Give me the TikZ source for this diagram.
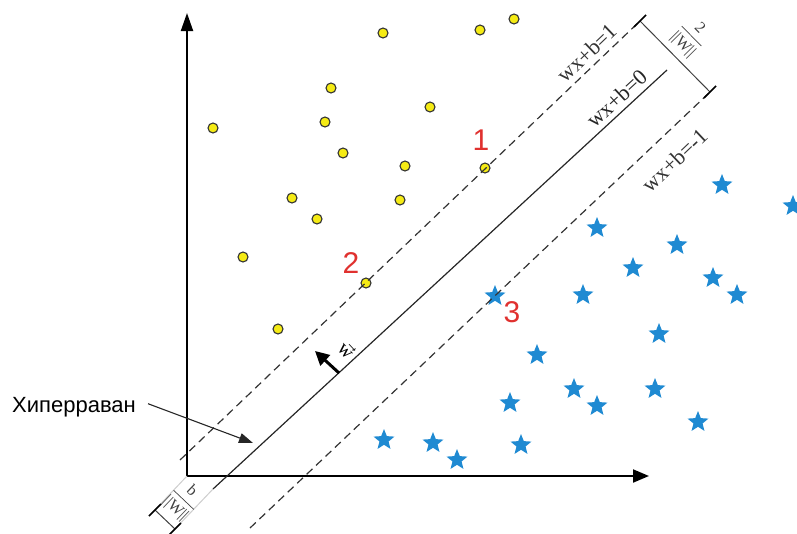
\documentclass[tikz,border=0pt]{standalone}
\usepackage{amsmath}
\usepackage{fontspec}
\setmainfont{Liberation Serif}
\newfontfamily\arialfont{Liberation Sans}
\usepackage{tikz}
\usetikzlibrary{arrows.meta,calc}
\usetikzlibrary{shapes.geometric}
\definecolor{dotyellow}{HTML}{F5EB14}
\definecolor{starblue}{HTML}{1F8AD2}
\definecolor{numred}{HTML}{E0312F}
\definecolor{extgray}{HTML}{CDCDCD}

\begin{document}
\begin{tikzpicture}[x=1pt,y=-1pt,
  dot/.style={circle,draw=black!80,fill=dotyellow,line width=1.1pt,minimum size=10pt,inner sep=0pt},
  bluestar/.style={star,star points=5,star point ratio=2.3,fill=starblue,minimum size=22pt,inner sep=0pt},
  num/.style={text=numred,font=\arialfont\fontsize{30}{30}\selectfont,inner sep=0pt},
  eqlabel/.style={font=\fontsize{22}{24}\selectfont,sloped,inner sep=1pt},
  dimlabel/.style={font=\fontsize{16}{18}\selectfont,sloped,inner sep=1pt},
  dimtick/.style={line width=1.6pt}]
\useasboundingbox (0,0) rectangle (797,533);
% data points
\foreach \px/\py [count=\i] in {383/33,480/30,514/19,331/88,430/107,213/128,325/122,343/153,405/166,485/168,292/198,317/219,400/200,243/257,366/283,278/329}
  \node[dot] (c\i) at (\px,\py) {};
\foreach \px/\py [count=\i] in {722/184,793/205,597/227,677/244,633/267,713/277,737/294,583/294,495/295,659/333,537/354,574/388,655/388,597/405,510/402,698/421,384/439,433/442,521/444,457/459}
  \node[bluestar] (s\i) at (\px,\py+1) {};
% axes
\coordinate (o) at (187,476);
\coordinate (ytip) at (187,13);
\coordinate (xtip) at (649,476);
\draw[line width=2pt,{Triangle[length=18pt,width=12pt]}-{Triangle[length=16pt,width=13pt]}] (ytip) |- (xtip);
% hyperplane and margins
\coordinate (h0) at (213,489); \coordinate (h1) at (667,70);
\coordinate (u0) at (180,460); \coordinate (u1) at (640,21);
\coordinate (l0) at (250,528); \coordinate (l1) at (710,92);
\draw[black!85,line width=1.2pt] (h0) -- (h1) node[eqlabel,pos=0.909,above=4pt] {wx+b=0};
\draw[black!80,line width=1.2pt,dash pattern=on 8pt off 5pt] (u0) -- (u1) node[eqlabel,pos=0.905,above=4pt] {wx+b=1};
\draw[black!80,line width=1.2pt,dash pattern=on 8pt off 5pt] (l0) -- (l1) node[eqlabel,pos=0.886,below=16pt] {wx+b=-1};
% margin width
\draw[black!75,line width=1pt] (u1) -- (l1) node[dimlabel,pos=0.47,above=5pt] {$\dfrac{\text{2}}{\text{||W||}}$};
\foreach \p in {u1,l1} \draw[dimtick] ($(\p)+(-6,6)$) -- ($(\p)+(6,-6)$);
% offset from origin
\coordinate (e0) at (152,513); \coordinate (e1) at (173,531);
\draw[extgray,line width=1pt] (o) -- (e0) (h0) -- (e1);
\coordinate (d0) at (155,510); \coordinate (d1) at (175,529);
\draw[black!75,line width=1pt] (d0) -- (d1) node[dimlabel,midway,above=6pt] {$\dfrac{\text{b}}{\text{||W||}}$};
\foreach \p in {d0,d1} \draw[dimtick] ($(\p)+(-6,6)$) -- ($(\p)+(6,-6)$);
% normal vector
\coordinate (wb) at (339,373); \coordinate (wt) at (315,351);
\draw[line width=3pt,-{Triangle[length=14pt,width=14pt]}] (wb) -- (wt);
\node[font=\fontsize{20}{20}\selectfont,rotate=-47,inner sep=0pt] (wlab) at (347,350) {$\vec{\mathrm{w}}$};
% labels
\node[num] (n1) at (481,140) {1};
\node[num] (n2) at (351,263) {2};
\node[num] (n3) at (512,312) {3};
\node[font=\arialfont\fontsize{22}{24}\selectfont,anchor=base west,inner sep=0pt] (hyp) at (12,412) {Хиперраван};
\coordinate (hyptip) at (253,443);
\draw[black!85,line width=1.1pt,-{Triangle[length=14pt,width=10pt]}] ([xshift=12pt,yshift=3pt]hyp.east) -- (hyptip);
\end{tikzpicture}
\end{document}
